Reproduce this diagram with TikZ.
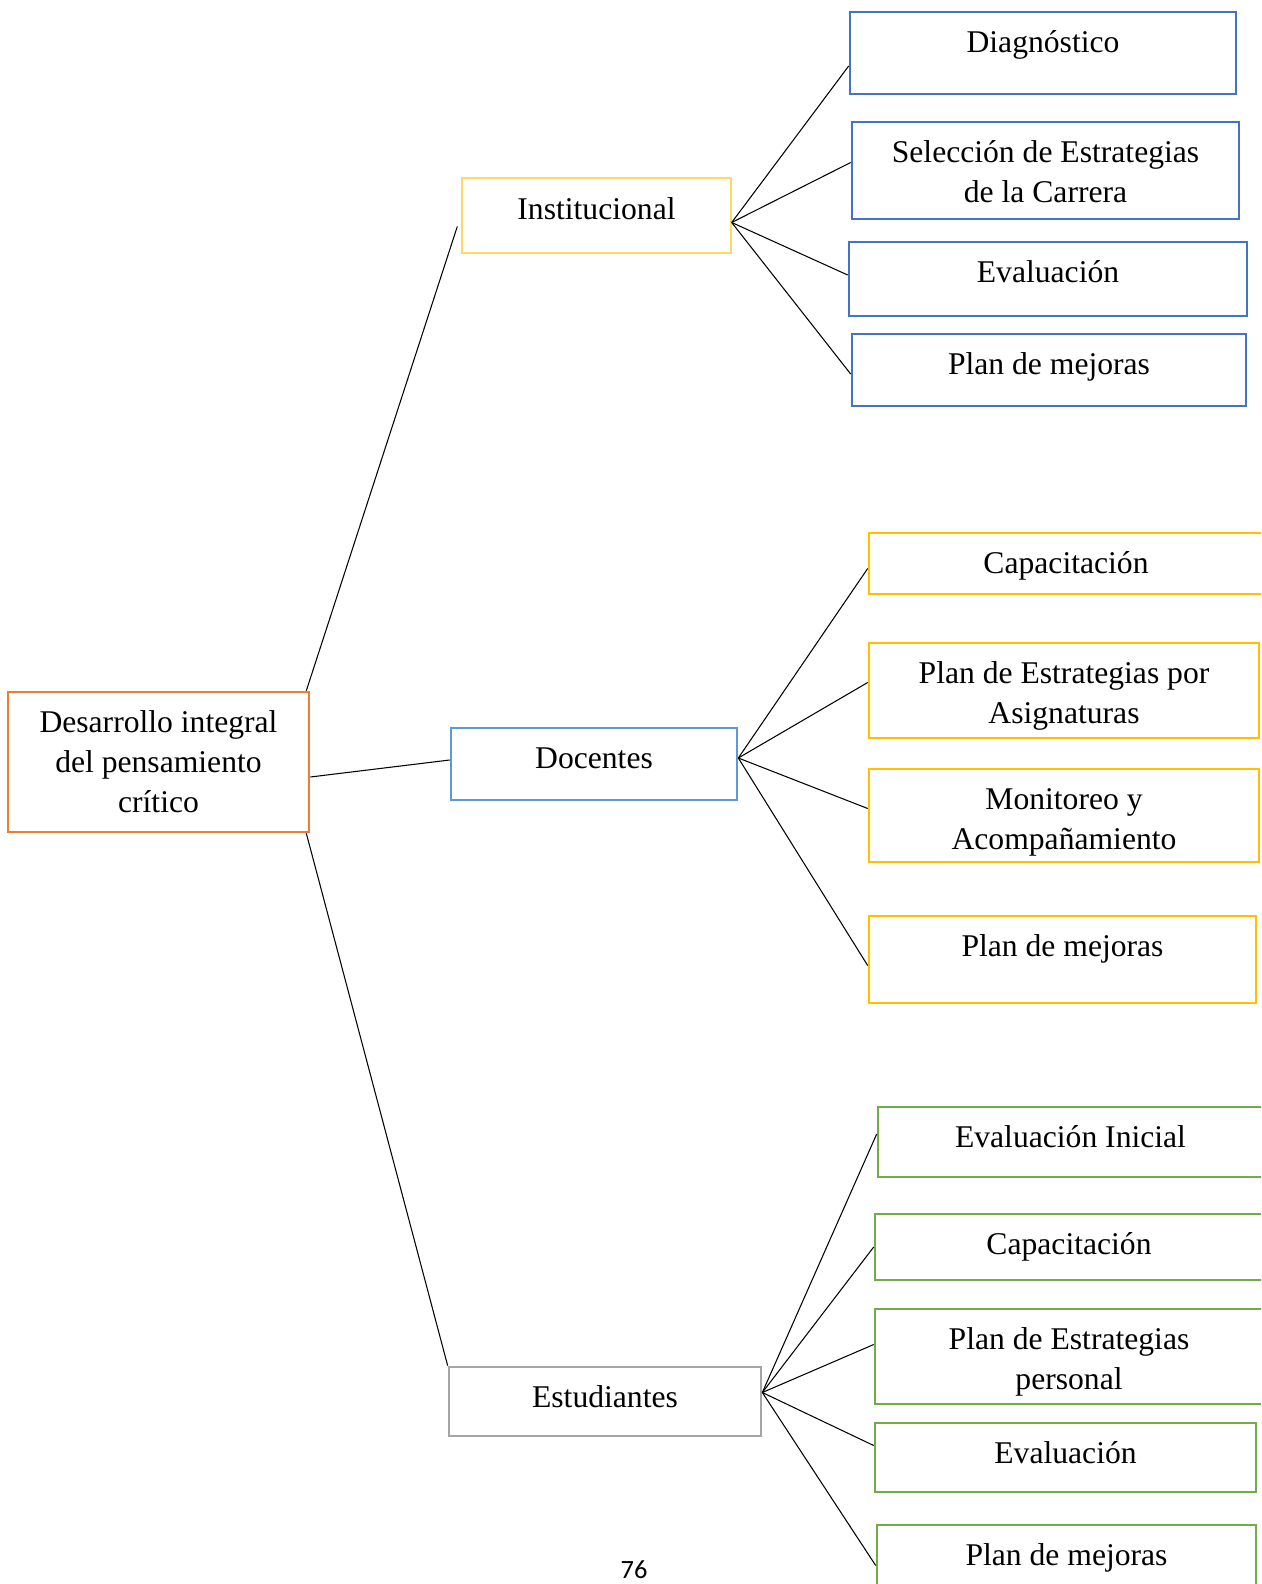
\documentclass[tikz,border=0pt]{standalone}
\usepackage{fontspec}
\setmainfont{Liberation Serif}
\newfontfamily\pagefont{Carlito}
\def\px{0.02cm}
\definecolor{rootorange}{HTML}{ED7D31}
\definecolor{instyellow}{HTML}{FFD966}
\definecolor{docblue}{HTML}{5B9BD5}
\definecolor{estgray}{HTML}{A5A5A5}
\definecolor{itemblue}{HTML}{4472C4}
\definecolor{itemgold}{HTML}{FFC000}
\definecolor{itemgreen}{HTML}{70AD47}
\tikzset{box/.style={draw=#1, line width=1.5pt, rectangle, inner sep=0pt},
    boxtext/.style={anchor=north, align=center, inner sep=0pt,
        font=\fontsize{18}{22.7}\selectfont},
    link/.style={draw=black, line width=0.6pt}}
% name, colour, x1, y1, x2, y2, text (pixel units)
\newcommand{\treebox}[7]{%
    \node[box=#2, minimum width={(#5-#3)*\px}, minimum height={(#6-#4)*\px}]
        (#1) at ({(#3+#5)/2},{(#4+#6)/2}) {};
    \node[boxtext] (#1 text) at ([yshift=-14*\px]#1.north) {\strut #7};}

\begin{document}
\begin{tikzpicture}[x=\px, y=-\px]
    \clip (0,0) rectangle (1261,1584);
    \treebox{root}{rootorange}{8}{692}{309}{832}{Desarrollo integral\\del pensamiento\\crítico}
    \treebox{inst}{instyellow, line width=0.8pt}{462}{178}{731}{253}{Institucional}
    \treebox{doc}{docblue}{451}{728}{737}{800}{Docentes}
    \treebox{est}{estgray}{449}{1367}{761}{1436}{Estudiantes}
    % institucional
    \treebox{diag}{itemblue}{850}{12}{1236}{94}{Diagnóstico}
    \treebox{sel}{itemblue}{852}{122}{1239}{219}{Selección de Estrategias\\de la Carrera}
    \treebox{evi}{itemblue}{849}{242}{1247}{316}{Evaluación}
    \treebox{pmi}{itemblue}{852}{334}{1246}{406}{Plan de mejoras}
    % docentes
    \treebox{cap}{itemgold}{869}{533}{1263}{594}{Capacitación}
    \treebox{ped}{itemgold}{869}{643}{1259}{738}{Plan de Estrategias por\\Asignaturas}
    \treebox{mon}{itemgold}{869}{769}{1259}{862}{Monitoreo y\\Acompañamiento}
    \treebox{pmd}{itemgold}{869}{916}{1256}{1003}{Plan de mejoras}
    % estudiantes
    \treebox{eini}{itemgreen}{878}{1107}{1263}{1177}{Evaluación Inicial}
    \treebox{cape}{itemgreen}{875}{1214}{1263}{1280}{Capacitación}
    \treebox{pep}{itemgreen}{875}{1309}{1263}{1404}{Plan de Estrategias\\personal}
    \treebox{eve}{itemgreen}{875}{1423}{1256}{1492}{Evaluación}
    \treebox{pme}{itemgreen}{877}{1525}{1256}{1600}{Plan de mejoras}

    \draw[link] ([xshift=-4*\px]root.north east) -- ([xshift=-4*\px, yshift=-11*\px]inst.west);
    \draw[link] ([yshift=-15*\px]root.east) -- ([yshift=4*\px]doc.west);
    \draw[link] ([xshift=-4*\px]root.south east) -- (est.north west);

    \draw[link] ([yshift=-7*\px]inst.east) -- ([yshift=-13*\px]diag.west);
    \draw[link] ([yshift=-7*\px]inst.east) -- ([yshift=8*\px]sel.west);
    \draw[link] ([yshift=-7*\px]inst.east) -- ([yshift=4*\px]evi.west);
    \draw[link] ([yshift=-7*\px]inst.east) -- ([yshift=-4*\px]pmi.west);

    \draw[link] ([yshift=6*\px]doc.east) -- ([yshift=-5*\px]cap.west);
    \draw[link] ([yshift=6*\px]doc.east) -- ([yshift=8*\px]ped.west);
    \draw[link] ([yshift=6*\px]doc.east) -- ([yshift=7*\px]mon.west);
    \draw[link] ([yshift=6*\px]doc.east) -- ([yshift=-6*\px]pmd.west);

    \draw[link] ([yshift=9*\px]est.east) -- ([yshift=8*\px]eini.west);
    \draw[link] ([yshift=9*\px]est.east) -- (cape.west);
    \draw[link] ([yshift=9*\px]est.east) -- ([yshift=12*\px]pep.west);
    \draw[link] ([yshift=9*\px]est.east) -- ([yshift=12*\px]eve.west);
    \draw[link] ([yshift=9*\px]est.east) -- ([yshift=-3*\px]pme.west);

    \node[font=\pagefont\fontsize{15}{18}\selectfont] (pagenum) at (634,1570) {76};
\end{tikzpicture}
\end{document}
